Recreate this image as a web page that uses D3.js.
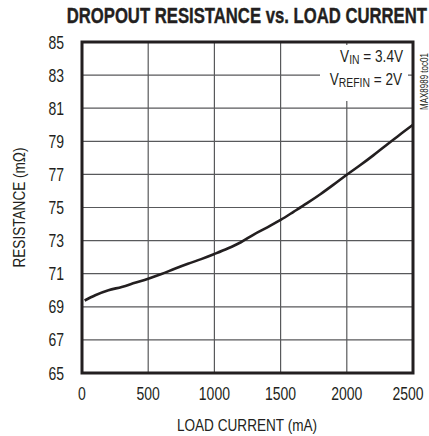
<!DOCTYPE html>
<html>
<head>
<meta charset="utf-8">
<script src="https://cdn.jsdelivr.net/npm/d3@7"></script>
<style>
  body { margin: 0; background: #fff; }
  svg text { font-family: "Liberation Sans", Arial, sans-serif; fill: #231f20; }
</style>
</head>
<body>
<div id="chart"></div>
<script>
// Data
const loadCurrent = [20, 100, 200, 300, 400, 500, 600, 700, 800, 900, 1000, 1100, 1200, 1300,
  1400, 1500, 1600, 1700, 1800, 1900, 2000, 2100, 2200, 2300, 2400, 2500];
const resistance = [69.38, 69.7, 70.0, 70.2, 70.45, 70.7, 70.98, 71.3, 71.6, 71.88, 72.19, 72.52,
  72.9, 73.38, 73.8, 74.25, 74.75, 75.26, 75.8, 76.38, 76.98, 77.55, 78.15, 78.78, 79.4, 80.0];
const xTicks = [0, 500, 1000, 1500, 2000, 2500];
const yTicks = [65, 67, 69, 71, 73, 75, 77, 79, 81, 83, 85];

const width = 429, height = 436;
const margin = { top: 42, right: 16, bottom: 63, left: 82 };
const narrow = 0.8; // condensed look

const svg = d3.select('#chart')
  .append('svg')
  .attr('width', width)
  .attr('height', height);

const x = d3.scaleLinear().domain([0, 2500]).range([margin.left, width - margin.right]);
const y = d3.scaleLinear().domain([65, 85]).range([height - margin.bottom, margin.top]);

// Grid
svg.append('g')
  .selectAll('line')
  .data(xTicks.slice(1, -1))
  .enter().append('line')
  .attr('x1', d => x(d)).attr('x2', d => x(d))
  .attr('y1', y(85)).attr('y2', y(65))
  .attr('stroke', '#58595b').attr('stroke-width', 1.2);

svg.append('g')
  .selectAll('line')
  .data(yTicks.slice(1, -1))
  .enter().append('line')
  .attr('x1', x(0)).attr('x2', x(2500))
  .attr('y1', d => y(d)).attr('y2', d => y(d))
  .attr('stroke', '#58595b').attr('stroke-width', 1.2);

// Annotation box (blanks grid behind)
svg.append('rect')
  .attr('x', 320).attr('y', 45)
  .attr('width', 88).attr('height', 56)
  .attr('fill', '#fff');

const note = svg.append('g').attr('text-anchor', 'end').style('font-size', '17px');
const t1 = note.append('text').attr('transform', `translate(403,62) scale(${narrow},1)`);
t1.append('tspan').text('V');
t1.append('tspan').attr('dy', 2).style('font-size', '13px').text('IN');
t1.append('tspan').attr('dy', -2).text(' = 3.4V');
const t2 = note.append('text').attr('transform', `translate(402,85) scale(${narrow},1)`);
t2.append('tspan').text('V');
t2.append('tspan').attr('dy', 2).style('font-size', '13px').text('REFIN');
t2.append('tspan').attr('dy', -2).text(' = 2V');

// Curve
const line = d3.line()
  .x((d, i) => x(loadCurrent[i]))
  .y(d => y(d))
  .curve(d3.curveMonotoneX);

svg.append('path')
  .datum(resistance)
  .attr('d', line)
  .attr('fill', 'none')
  .attr('stroke', '#231f20')
  .attr('stroke-width', 2.6)
  .attr('stroke-linejoin', 'round');

// Frame
svg.append('rect')
  .attr('x', x(0)).attr('y', y(85))
  .attr('width', x(2500) - x(0)).attr('height', y(65) - y(85))
  .attr('fill', 'none')
  .attr('stroke', '#231f20')
  .attr('stroke-width', 3);

// Tick labels
svg.append('g')
  .selectAll('text')
  .data(yTicks)
  .enter().append('text')
  .attr('transform', d => `translate(64,${y(d) + 6.5}) scale(${narrow},1)`)
  .attr('text-anchor', 'end')
  .style('font-size', '17.5px')
  .text(d => d);

svg.append('g')
  .selectAll('text')
  .data(xTicks)
  .enter().append('text')
  .attr('transform', d => `translate(${x(d) - (d === 2500 ? 5 : 0)},400) scale(${narrow},1)`)
  .attr('text-anchor', 'middle')
  .style('font-size', '17.5px')
  .text(d => d);

// Axis titles
svg.append('text')
  .attr('transform', `translate(247,431) scale(${narrow},1)`)
  .attr('text-anchor', 'middle')
  .style('font-size', '17px')
  .text('LOAD CURRENT (mA)');

svg.append('text')
  .attr('transform', `translate(25,${(y(65) + y(85)) / 2}) rotate(-90) scale(${narrow},1)`)
  .attr('text-anchor', 'middle')
  .style('font-size', '17px')
  .text('RESISTANCE (mΩ)');

// Title, squeezed to the reference width
const title = svg.append('text')
  .attr('text-anchor', 'end')
  .style('font-size', '22px')
  .style('font-weight', 'bold')
  .style('stroke', '#231f20')
  .style('stroke-width', 0.4)
  .text('DROPOUT RESISTANCE vs. LOAD CURRENT');
const titleW = title.node().getBBox().width;
title.attr('transform', `translate(427,22.5) scale(${361 / titleW},1)`);

// Side code
svg.append('text')
  .attr('transform', `translate(428,110) rotate(-90) scale(${narrow},1)`)
  .attr('text-anchor', 'start')
  .style('font-size', '10px')
  .text('MAX8989 toc01');
</script>
</body>
</html>
